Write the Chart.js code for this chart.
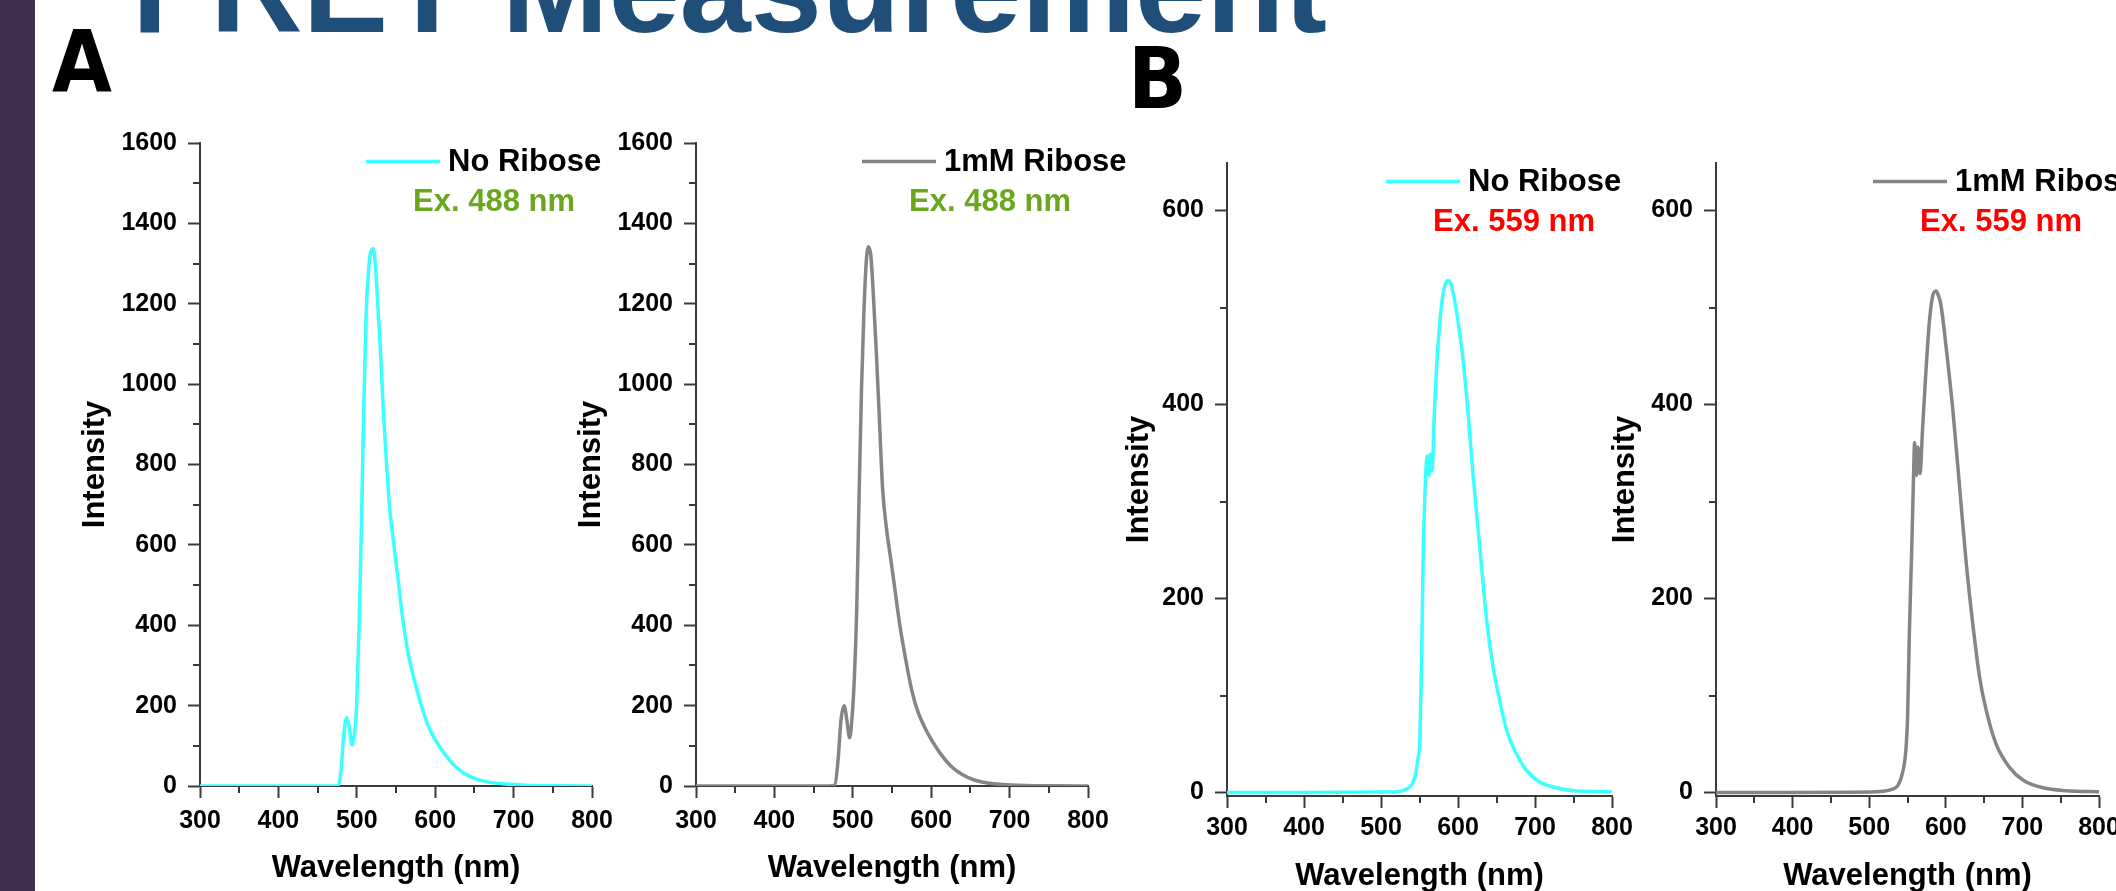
<!DOCTYPE html>
<html>
<head>
<meta charset="utf-8">
<script src="https://cdn.jsdelivr.net/npm/chart.js@4.4.1/dist/chart.umd.min.js"></script>
<style>
  html, body { margin: 0; padding: 0; background: #fff; overflow: hidden; }
  #page { position: relative; width: 2116px; height: 891px; overflow: hidden; background: #fff; }
  #bar { position: absolute; left: 0; top: 0; width: 35px; height: 891px; background: #3e2f50; }
  #title { position: absolute; left: 132px; top: -76px; font: bold 128px/1 "Liberation Sans", Arial, sans-serif; color: #1f4e79; white-space: nowrap; }
  .tag { position: absolute; font: bold 86px/1 "DejaVu Sans Condensed", "DejaVu Sans", sans-serif; color: #000; }
  canvas { position: absolute; }
</style>
</head>
<body>
<div id="page">
  <div id="bar"></div>
  <div id="title">FRET Measurement</div>
  <div class="tag" style="left:52px; top:18px;">A</div>
  <div class="tag" style="left:1128px; top:35px;">B</div>
  <canvas id="a1" width="560" height="810" style="left:60px; top:100px;"></canvas>
  <canvas id="a2" width="600" height="810" style="left:556px; top:100px;"></canvas>
  <canvas id="b1" width="560" height="810" style="left:1087px; top:100px;"></canvas>
  <canvas id="b2" width="600" height="810" style="left:1576px; top:100px;"></canvas>
</div>
<script>
// tick values
const xTickLabels = [300, 400, 500, 600, 700, 800];
const xMinorTicks = [350, 450, 550, 650, 750];
const yTickLabelsA = [0, 200, 400, 600, 800, 1000, 1200, 1400, 1600];
const yMinorTicksA = [100, 300, 500, 700, 900, 1100, 1300, 1500];
const yTickLabelsB = [0, 200, 400, 600];
const yMinorTicksB = [100, 300, 500];

const seriesNames = ["No Ribose", "1mM Ribose"];
const excitationLabels = ["Ex. 488 nm", "Ex. 559 nm"];

// A: excitation 488 nm, no ribose
const wavelengthA1 = [300, 400, 470, 476, 480, 483, 487, 490, 494, 497, 500, 503, 506, 509, 512, 515, 518, 521, 524, 527, 530, 534, 538, 542, 547, 552, 558, 565, 572, 580, 590, 600, 612, 625, 640, 655, 670, 690, 720, 760, 800];
const intensityA1 = [0, 0, 0, 2, 40, 120, 170, 150, 102, 130, 210, 400, 660, 950, 1180, 1285, 1330, 1337, 1290, 1190, 1090, 930, 800, 690, 605, 525, 425, 335, 275, 215, 155, 115, 80, 50, 28, 16, 9, 5, 1.5, 0.5, 0];

// A: excitation 488 nm, 1mM ribose
const wavelengthA2 = [300, 400, 470, 477, 481, 485, 489, 492, 496, 499, 502, 505, 508, 511, 514, 517, 520, 523, 526, 530, 534, 538, 543, 548, 553, 560, 567, 575, 583, 592, 600, 612, 625, 640, 655, 670, 690, 720, 760, 800];
const intensityA2 = [0, 0, 0, 2, 60, 165, 200, 170, 120, 170, 270, 440, 720, 980, 1170, 1300, 1342, 1320, 1230, 1080, 910, 740, 640, 570, 500, 400, 320, 240, 185, 145, 116, 80, 50, 28, 15, 8, 4, 1.5, 0.5, 0];

// B: excitation 559 nm, no ribose
const wavelengthB1 = [300, 400, 500, 520, 533, 540, 544, 548, 550.5, 552.6, 554.8, 557, 560, 562.5, 564.3, 566.4, 569, 572, 576.4, 580.7, 584, 587.2, 590.5, 593.7, 600.2, 606.7, 613.1, 619.6, 628.3, 637, 645.6, 654.2, 662.9, 675.9, 688.8, 706.1, 727.8, 749.4, 800];
const intensityB1 = [0, 0, 0.5, 1, 3.5, 8, 16, 35, 55, 129, 243, 307, 347, 327, 349, 332, 386, 436, 485, 515, 525, 528, 525, 515, 485, 445, 391, 327, 253, 179, 129, 95, 65, 40, 23, 11, 5, 2, 1];

// B: excitation 559 nm, 1mM ribose
const wavelengthB2 = [300, 400, 500, 530.6, 543.7, 548, 550.2, 552.4, 555.4, 557.6, 559.3, 561.9, 563.7, 566.3, 569.8, 574.2, 578.5, 582.9, 587.3, 590.5, 593.8, 600.3, 609, 617.8, 626.5, 635.2, 643.9, 652.7, 665.7, 683.2, 700.6, 726.8, 757.3, 800];
const intensityB2 = [0, 0, 0.5, 3.5, 21, 45, 80, 164, 248, 317, 361, 327, 356, 329, 377, 436, 485, 512, 517, 512, 502, 460, 396, 317, 238, 174, 120, 85, 50, 26, 13, 5, 2, 1];

const CYAN = "#3cffff";
const GRAY = "#858585";
const AXIS = "#3a3a3a";
const FONT = "'Liberation Sans', Arial, sans-serif";

// legend line + text and the excitation label, placed from the plot's top-right corner
const panelText = {
  id: "panelText",
  afterDraw(chart, args, opts) {
    const { ctx, chartArea } = chart;
    const ds = chart.data.datasets[0];
    const R = chartArea.right, T = chartArea.top;
    ctx.save();
    ctx.strokeStyle = ds.borderColor;
    ctx.lineWidth = 3.5;
    ctx.beginPath();
    ctx.moveTo(R - 226, T + 18.5);
    ctx.lineTo(R - 152, T + 18.5);
    ctx.stroke();
    ctx.font = "bold 31px " + FONT;
    ctx.textBaseline = "middle";
    ctx.fillStyle = "#000";
    ctx.textAlign = "left";
    ctx.fillText(ds.label, R - 144, T + 19);
    ctx.fillStyle = opts.exColor;
    ctx.textAlign = "center";
    ctx.fillText(opts.exText, R - 98, T + 59);
    ctx.restore();
  }
};

// short minor ticks (Chart.js has no minor ticks of its own)
const minorTicks = {
  id: "minorTicks",
  afterDraw(chart, args, opts) {
    const { ctx, chartArea, scales } = chart;
    ctx.save();
    ctx.strokeStyle = AXIS;
    ctx.lineWidth = 2;
    ctx.beginPath();
    opts.x.forEach(v => {
      const px = Math.round(scales.x.getPixelForValue(v));
      ctx.moveTo(px, chartArea.bottom);
      ctx.lineTo(px, chartArea.bottom + 7);
    });
    opts.y.forEach(v => {
      const py = Math.round(scales.y.getPixelForValue(v));
      ctx.moveTo(chartArea.left, py);
      ctx.lineTo(chartArea.left - 7, py);
    });
    ctx.stroke();
    ctx.restore();
  }
};

function makePanel(id, xs, ys, cfg) {
  const points = xs.map((x, i) => ({ x: x, y: ys[i] }));
  return new Chart(document.getElementById(id), {
    type: "line",
    data: {
      datasets: [{
        label: cfg.name,
        data: points,
        borderColor: cfg.color,
        borderWidth: 3.5,
        pointRadius: 0,
        fill: false,
        cubicInterpolationMode: "monotone"
      }]
    },
    options: {
      responsive: false,
      animation: false,
      devicePixelRatio: 1,
      layout: { padding: { left: 0, right: cfg.padRight, top: cfg.padTop, bottom: 0 } },
      plugins: {
        legend: { display: false },
        tooltip: { enabled: false },
        panelText: { exText: cfg.exText, exColor: cfg.exColor },
        minorTicks: { x: xMinorTicks, y: cfg.yMinor }
      },
      scales: {
        x: {
          type: "linear",
          min: 300,
          max: 800,
          afterBuildTicks: s => { s.ticks = xTickLabels.map(v => ({ value: v })); },
          afterFit: s => { s.height = cfg.xh; s.paddingLeft = 0; s.paddingRight = 0; },
          grid: { drawOnChartArea: false, drawTicks: true, tickLength: 12, tickWidth: 2, tickColor: AXIS },
          border: { display: true, width: 2, color: AXIS },
          ticks: { autoSkip: false, maxRotation: 0, padding: cfg.xTickPad, color: "#000", font: { family: FONT, size: 25, weight: "bold" }, callback: v => String(v) },
          title: { display: true, text: "Wavelength (nm)", color: "#000", font: { family: FONT, size: 31, weight: "bold" }, padding: { top: 0, bottom: cfg.xTitlePad } }
        },
        y: {
          min: cfg.yMin,
          max: cfg.yMax,
          afterBuildTicks: s => { s.ticks = cfg.yTicks.map(v => ({ value: v })); },
          afterFit: s => { s.width = 140; s.paddingTop = 0; s.paddingBottom = 0; },
          grid: { drawOnChartArea: false, drawTicks: true, tickLength: 12, tickWidth: 2, tickColor: AXIS },
          border: { display: true, width: 2, color: AXIS },
          ticks: { autoSkip: false, padding: 11, color: "#000", font: { family: FONT, size: 25, weight: "bold" }, callback: v => String(v) },
          title: { display: true, text: "Intensity", color: "#000", font: { family: FONT, size: 31, weight: "bold" }, padding: { top: cfg.yTitlePad, bottom: 0 } }
        }
      }
    },
    plugins: [panelText, minorTicks]
  });
}

makePanel("a1", wavelengthA1, intensityA1, {
  name: seriesNames[0], color: CYAN, exText: excitationLabels[0], exColor: "#6ba61f",
  yMin: 0, yMax: 1600, yTicks: yTickLabelsA, yMinor: yMinorTicksA,
  padRight: 28, padTop: 43, xh: 124, xTitlePad: 23, yTitlePad: 17, xTickPad: 8
});
makePanel("a2", wavelengthA2, intensityA2, {
  name: seriesNames[1], color: GRAY, exText: excitationLabels[0], exColor: "#6ba61f",
  yMin: 0, yMax: 1600, yTicks: yTickLabelsA, yMinor: yMinorTicksA,
  padRight: 68, padTop: 43, xh: 124, xTitlePad: 23, yTitlePad: 17, xTickPad: 8
});
makePanel("b1", wavelengthB1, intensityB1, {
  name: seriesNames[0], color: CYAN, exText: excitationLabels[1], exColor: "#ff0000",
  yMin: -3.5, yMax: 649, yTicks: yTickLabelsB, yMinor: yMinorTicksB,
  padRight: 35, padTop: 63, xh: 114, xTitlePad: 15, yTitlePad: 34, xTickPad: 5
});
makePanel("b2", wavelengthB2, intensityB2, {
  name: seriesNames[1], color: GRAY, exText: excitationLabels[1], exColor: "#ff0000",
  yMin: -3.5, yMax: 649, yTicks: yTickLabelsB, yMinor: yMinorTicksB,
  padRight: 77, padTop: 63, xh: 114, xTitlePad: 15, yTitlePad: 31, xTickPad: 5
});
</script>
</body>
</html>
